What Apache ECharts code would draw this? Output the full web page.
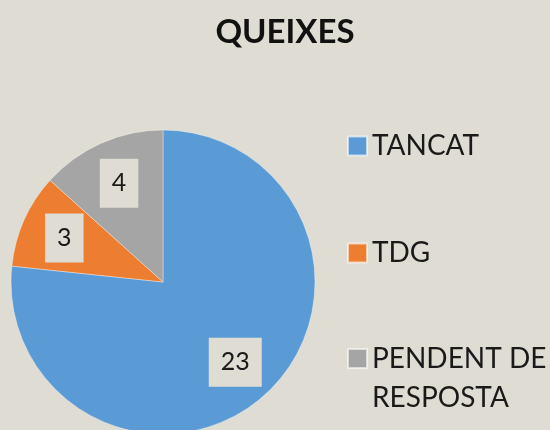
<!DOCTYPE html>
<html>
<head>
<meta charset="utf-8">
<script src="https://cdn.jsdelivr.net/npm/echarts@6/dist/echarts.min.js"></script>
<style>
html,body{margin:0;padding:0;background:#dfdcd3;}
#chart{width:550px;height:430px;}
</style>
</head>
<body>
<div id="chart"></div>
<script>
const titleText = 'QUEIXES';
const categories = ['TANCAT', 'TDG', 'PENDENT DE RESPOSTA'];
const values = [23, 3, 4];
const colors = ['#5b9bd5', '#ed7d31', '#a5a5a5'];

const BG = '#dfdcd3';
const FONT = 'Lato, "Open Sans", sans-serif';

const pieData = categories.map((c, i) => ({ name: c, value: values[i], itemStyle: { color: colors[i] } }));
const labelData = categories.map((c, i) => ({ name: c, value: values[i] }));

const chart = echarts.init(document.getElementById('chart'), null, { renderer: 'canvas' });

const legendBase = {
  orient: 'vertical',
  left: 347,
  padding: 0,
  icon: 'rect',
  itemWidth: 19,
  itemHeight: 19,
  selectedMode: false,
  textStyle: { fontFamily: FONT, fontSize: 28, color: '#1a1a1a', lineHeight: 30 }
};

chart.setOption({
  backgroundColor: BG,
  animation: false,
  title: {
    text: titleText,
    left: 280,
    textAlign: 'center',
    top: 11,
    textStyle: { fontFamily: FONT, fontSize: 33, fontWeight: 'bold', color: '#111' }
  },
  legend: [
    Object.assign({}, legendBase, { top: 131, data: [categories[0]] }),
    Object.assign({}, legendBase, { top: 238, data: [categories[1]] }),
    Object.assign({}, legendBase, {
      top: 300,
      data: [categories[2]],
      formatter: () => ' \nPENDENT DE\nRESPOSTA',
      textStyle: { fontFamily: FONT, fontSize: 28, color: '#1a1a1a', lineHeight: 39 }
    })
  ],
  series: [
    {
      type: 'pie',
      center: [163, 282],
      radius: [0, 152],
      startAngle: 90,
      clockwise: true,
      silent: true,
      label: { show: false },
      labelLine: { show: false },
      itemStyle: { borderColor: 'rgba(255,255,255,0.6)', borderWidth: 0.6 },
      data: pieData
    },
    {
      type: 'pie',
      center: [163, 282],
      radius: [0, 210],
      startAngle: 90,
      clockwise: true,
      silent: true,
      itemStyle: { color: 'rgba(0,0,0,0)' },
      labelLine: { show: false },
      label: {
        show: true,
        position: 'inside',
        formatter: '{c}',
        fontFamily: FONT,
        fontSize: 25,
        lineHeight: 25,
        color: '#1a1a1a',
        backgroundColor: BG,
        padding: [12, 12]
      },
      data: labelData
    }
  ]
});
</script>
</body>
</html>
